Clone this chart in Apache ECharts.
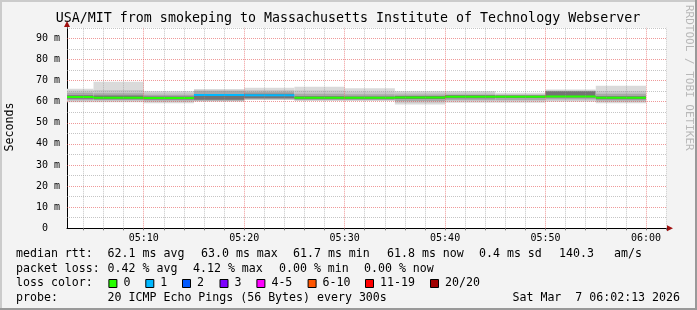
<!DOCTYPE html>
<html><head><meta charset="utf-8">
<script src="https://cdn.jsdelivr.net/npm/echarts@6/dist/echarts.min.js"></script>
<style>html,body{margin:0;padding:0;background:#f3f3f3}#c{width:697px;height:310px}</style>
</head><body><div id="c"></div>
<script>
// ---- data ----
const segmentEnds = ['05:05','05:10','05:15','05:20','05:25','05:30','05:35','05:40','05:45','05:50','05:55','06:00'];
const lossCount   = [0, 0, 0, 1, 1, 0, 0, 0, 0, 0, 0, 0];
const medianRtt   = [62.2, 61.9, 61.7, 63.2, 63.1, 61.9, 61.8, 62.0, 62.3, 62.3, 62.4, 61.8];
const band1Hi = [66.1, 69.4, 65.0, 66.0, 66.6, 67.1, 66.3, 65.0, 65.0, 64.2, 65.8, 67.6];
const band2Hi = [65.3, 65.5, 64.3, 65.5, 65.5, 65.3, 64.8, 64.3, 64.3, 63.6, 65.3, 65.0];
const band3Hi = [64.2, 64.0, 63.3, 65.0, 64.8, 63.8, 63.5, 63.4, 63.4, 63.2, 65.0, 63.8];
const band4Hi = [63.0, 62.9, 62.4, 63.6, 63.8, 62.6, 62.4, 62.7, 63.0, 62.9, 64.9, 62.6];
const band4Lo = [61.4, 61.2, 61.0, 60.9, 61.6, 61.2, 61.2, 61.3, 61.6, 61.7, 62.0, 61.1];
const band3Lo = [60.8, 60.8, 60.5, 60.6, 61.2, 60.9, 60.9, 60.3, 60.8, 60.8, 61.2, 60.5];
const band2Lo = [60.2, 60.2, 59.8, 60.3, 61.0, 60.6, 60.6, 59.5, 60.2, 60.2, 60.6, 59.8];
const band1Lo = [59.7, 59.7, 59.2, 60.0, 60.8, 60.4, 60.4, 58.7, 59.5, 59.5, 60.0, 59.2];
const xTickLabels = ['05:10','05:20','05:30','05:40','05:50','06:00'];
const yTickValues = [0, 10, 20, 30, 40, 50, 60, 70, 80, 90];
const lossLegend = ['0','1','2','3','4-5','6-10','11-19','20/20'];
const lossColors = ['#26ff00','#00b8ff','#0059ff','#7e00ff','#ff00ff','#ff5500','#ff0000','#a00000'];
const rttStats  = ['62.1 ms avg','63.0 ms max','61.7 ms min','61.8 ms now','0.4 ms sd','140.3','am/s'];
const lossStats = ['0.42 % avg','4.12 % max','0.00 % min','0.00 % now'];
const probeText = '20 ICMP Echo Pings (56 Bytes) every 300s';
const stampText = 'Sat Mar  7 06:02:13 2026';
const titleText = 'USA/MIT from smokeping to Massachusetts Institute of Technology Webserver';

// ---- helpers ----
const toMin = s => { const [h, m] = s.split(':').map(Number); return h * 60 + m; };
const fmt = v => { const h = Math.floor(v / 60), m = Math.round(v % 60); return String(h).padStart(2,'0') + ':' + String(m).padStart(2,'0'); };
const lossColorOf = n => n === 0 ? lossColors[0] : n === 1 ? lossColors[1] : n === 2 ? lossColors[2] : n === 3 ? lossColors[3] : n <= 5 ? lossColors[4] : n <= 10 ? lossColors[5] : n <= 19 ? lossColors[6] : lossColors[7];
const X_MIN = 302.36, X_MAX = 362.09;
const MONO = 'DejaVu Sans Mono';

const smokeData = segmentEnds.map((e, i) => [toMin(e) - 5, toMin(e), band1Lo[i], band1Hi[i], band2Lo[i], band2Hi[i], band3Lo[i], band3Hi[i], band4Lo[i], band4Hi[i]]);
const medianData = segmentEnds.map((e, i) => [toMin(e) - 5, toMin(e), medianRtt[i], lossCount[i]]);
const bandColors = ['#dadada', '#c6c6c6', '#a8a8a8', '#747474'];

const minorX = []; for (let t = 304; t < X_MAX; t += 2) minorX.push(t);
const gridLines = [];
for (let v = 5; v <= 95; v += 5) gridLines.push({ yAxis: v, lineStyle: { color: v % 10 === 0 ? 'rgba(225,70,70,0.55)' : 'rgba(150,150,150,0.55)', type: [1, 1], width: 1 } });
minorX.forEach(t => gridLines.push({ xAxis: t, lineStyle: { color: t % 10 === 0 ? 'rgba(225,70,70,0.55)' : 'rgba(150,150,150,0.55)', type: [1, 1], width: 1 } }));

const chart = echarts.init(document.getElementById('c'), null, { renderer: 'canvas' });

const graphics = [];
// frame
graphics.push({ type: 'rect', shape: { x: 0, y: 0, width: 697, height: 2 }, style: { fill: '#cbcbcb' }, silent: true });
graphics.push({ type: 'rect', shape: { x: 0, y: 0, width: 2, height: 310 }, style: { fill: '#cbcbcb' }, silent: true });
graphics.push({ type: 'rect', shape: { x: 0, y: 308, width: 697, height: 2 }, style: { fill: '#999999' }, silent: true });
graphics.push({ type: 'rect', shape: { x: 695, y: 0, width: 2, height: 310 }, style: { fill: '#999999' }, silent: true });
// title
graphics.push({ type: 'text', x: 348, y: 19, style: { text: titleText, font: '13.3px ' + MONO, fill: '#000', align: 'center', verticalAlign: 'middle' } });
// watermark
graphics.push({ type: 'text', x: 689, y: 5, rotation: -Math.PI / 2, style: { text: 'RRDTOOL / TOBI OETIKER', font: '11px ' + MONO, fill: '#b8b8b8', align: 'left', verticalAlign: 'middle' } });
// y name
graphics.push({ type: 'text', x: 10, y: 127, rotation: Math.PI / 2, style: { text: 'Seconds', font: '11.6px ' + MONO, fill: '#000', align: 'center', verticalAlign: 'middle' } });
// arrows
graphics.push({ type: 'polygon', shape: { points: [[667, 225.3], [673, 228.3], [667, 231.3]] }, style: { fill: '#a01010' } });
graphics.push({ type: 'polygon', shape: { points: [[64, 27], [67, 21], [70, 27]] }, style: { fill: '#a01010' } });
// legend rows
const LF = '11.6px ' + MONO;
const rowY = [254, 268.5, 283, 297.5];
const row = (y, label) => graphics.push({ type: 'text', x: 16, y: y, style: { text: label, font: LF, fill: '#000', verticalAlign: 'middle' } });
row(rowY[0], 'median rtt:'); row(rowY[1], 'packet loss:'); row(rowY[2], 'loss color:'); row(rowY[3], 'probe:');
const rttX = [107.6, 201, 293, 387, 479, 559, 614];
rttStats.forEach((t, i) => graphics.push({ type: 'text', x: rttX[i], y: rowY[0], style: { text: t, font: LF, fill: '#000', verticalAlign: 'middle' } }));
const lossX = [107.6, 193, 279, 364];
lossStats.forEach((t, i) => graphics.push({ type: 'text', x: lossX[i], y: rowY[1], style: { text: t, font: LF, fill: '#000', verticalAlign: 'middle' } }));
const boxX = [108.4, 145.3, 182, 219.5, 256.4, 307.6, 365, 430];
lossLegend.forEach((t, i) => {
  graphics.push({ type: 'rect', shape: { x: boxX[i] + 0.5, y: rowY[2] - 3.5, width: 8, height: 8 }, style: { fill: lossColors[i], stroke: '#000', lineWidth: 1 } });
  graphics.push({ type: 'text', x: boxX[i] + 15, y: rowY[2], style: { text: t, font: LF, fill: '#000', verticalAlign: 'middle' } });
});
graphics.push({ type: 'text', x: 107.6, y: rowY[3], style: { text: probeText, font: LF, fill: '#000', verticalAlign: 'middle' } });
graphics.push({ type: 'text', x: 680, y: rowY[3], style: { text: stampText, font: LF, fill: '#000', align: 'right', verticalAlign: 'middle' } });

chart.setOption({
  animation: false,
  backgroundColor: '#f3f3f3',
  grid: { left: 67, right: 30, top: 27.8, bottom: 81.7, show: true, backgroundColor: '#ffffff', borderWidth: 0 },
  xAxis: {
    type: 'value', min: X_MIN, max: X_MAX,
    axisLine: { show: true, lineStyle: { color: '#000', width: 1 } },
    axisTick: { show: true, customValues: minorX, length: 2, lineStyle: { color: '#777' } },
    axisLabel: { customValues: xTickLabels.map(toMin), formatter: v => fmt(v), fontFamily: MONO, fontSize: 10, color: '#000', margin: 5 },
    splitLine: { show: false }
  },
  yAxis: {
    type: 'value', min: 0, max: 95, interval: 10,
    axisLine: { show: true, lineStyle: { color: '#000', width: 1 } },
    axisTick: { show: false },
    axisLabel: { showMaxLabel: false, formatter: v => yTickValues.includes(v) ? (v === 0 ? '0  ' : v + ' m') : '', fontFamily: MONO, fontSize: 10, color: '#000', margin: 7 },
    splitLine: { show: false }
  },
  graphic: graphics,
  series: [
    {
      type: 'custom', z: 2, clip: true, silent: true,
      renderItem: (params, api) => {
        const s = Math.max(api.value(0), X_MIN), e = api.value(1);
        const children = [];
        for (let b = 0; b < 4; b++) {
          const lo = api.value(2 + b * 2), hi = api.value(3 + b * 2);
          const p0 = api.coord([s, hi]), p1 = api.coord([e, lo]);
          children.push({ type: 'rect', shape: { x: p0[0], y: p0[1], width: p1[0] - p0[0], height: p1[1] - p0[1] }, style: { fill: bandColors[b] } });
        }
        return { type: 'group', children };
      },
      data: smokeData
    },
    {
      type: 'scatter', z: 3, data: [], silent: true,
      markLine: { silent: true, symbol: ['none', 'none'], label: { show: false }, animation: false, data: gridLines }
    },
    {
      type: 'custom', z: 4, clip: true, silent: true,
      renderItem: (params, api) => {
        const s = Math.max(api.value(0), X_MIN), e = api.value(1);
        const p0 = api.coord([s, api.value(2)]), p1 = api.coord([e, api.value(2)]);
        return { type: 'rect', shape: { x: p0[0], y: p0[1] - 1, width: p1[0] - p0[0], height: 2 }, style: { fill: lossColorOf(api.value(3)) } };
      },
      data: medianData
    }
  ]
});
</script></body></html>
